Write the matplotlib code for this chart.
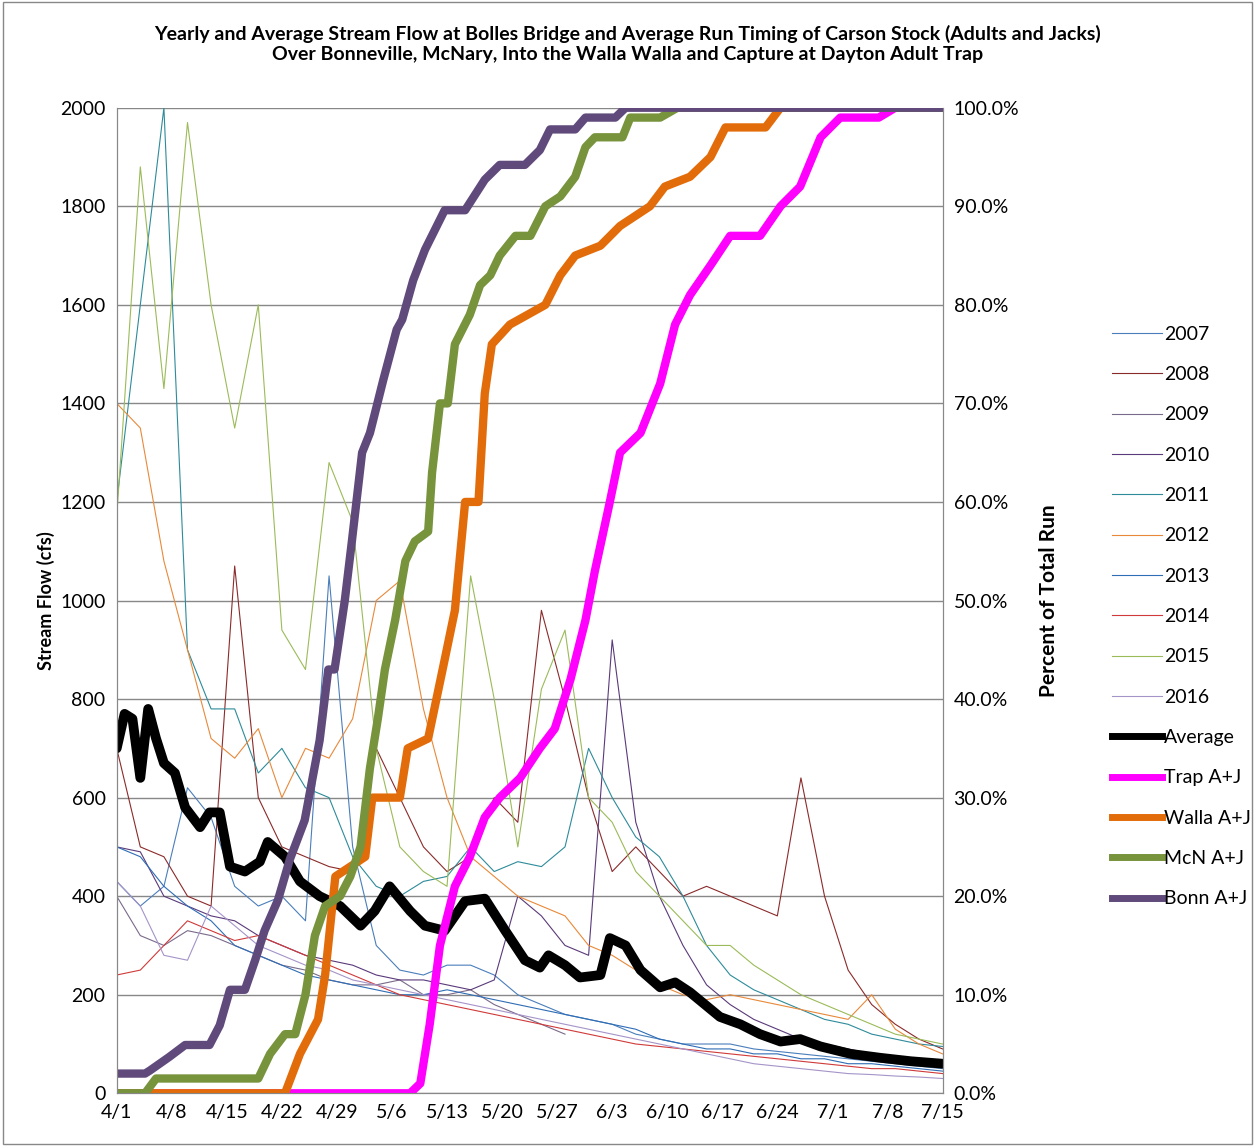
import matplotlib
matplotlib.use("Agg")
import matplotlib.pyplot as plt
import numpy as np
from matplotlib.lines import Line2D

plt.rcParams['font.family'] = ['Lato', 'DejaVu Sans']

tick_days = [0, 7, 14, 21, 28, 35, 42, 49, 56, 63, 70, 77, 84, 91, 98, 105]
tick_labels = ["4/1","4/8","4/15","4/22","4/29","5/6","5/13","5/20","5/27","6/3","6/10","6/17","6/24","7/1","7/8","7/15"]

year_days = list(range(0, 106, 3))
years = {
 "2007": ("#4A7EBB", [430,380,420,620,560,420,380,400,350,1050,500,300,250,240,260,260,240,200,180,160,150,140,120,110,100,100,100,90,85,80,75,70,65,60,55,50]),
 "2008": ("#8B2A2A", [700,500,480,400,380,1070,600,500,480,460,450,700,600,500,450,480,600,550,980,800,600,450,500,450,400,420,400,380,360,640,400,250,180,140,110,90]),
 "2009": ("#7A6A8A", [400,320,300,330,320,300,280,260,250,230,220,220,230,200,200,210,180,160,140,120]),
 "2010": ("#5A3A7A", [500,490,400,380,360,350,320,300,280,270,260,240,230,230,220,210,230,400,360,300,280,920,550,400,300,220,180,150,130,110,100,90,80,70,60,55]),
 "2011": ("#2E8B9A", [1200,1600,2000,900,780,780,650,700,620,600,480,420,400,430,440,500,450,470,460,500,700,600,520,480,400,300,240,210,190,170,150,140,120,110,100,95]),
 "2012": ("#E8893A", [1400,1350,1080,900,720,680,740,600,700,680,760,1000,1040,780,600,480,440,400,380,360,300,280,250,220,200,190,200,190,180,170,160,150,200,130,100,80]),
 "2013": ("#2F6DB5", [500,480,420,380,350,300,280,260,240,230,220,210,200,200,210,200,190,180,170,160,150,140,130,110,100,90,90,80,80,70,70,60,60,55,50,45]),
 "2014": ("#D03A3A", [240,250,300,350,330,310,320,300,280,260,240,220,200,190,180,170,160,150,140,130,120,110,100,95,90,85,80,75,70,65,60,55,50,50,45,40]),
 "2015": ("#9BBB59", [1170,1880,1430,1970,1600,1350,1600,940,860,1280,1160,700,500,450,420,1050,800,500,820,940,600,550,450,400,350,300,300,260,230,200,180,160,140,120,110,100]),
 "2016": ("#A594C8", [430,380,280,270,380,340,300,280,260,250,230,220,210,200,190,180,170,160,150,140,130,120,110,100,90,80,70,60,55,50,45,40,38,35,33,30]),
}

avg_days = [0,1,2,3,4,5,6,7.4,8.7,10.6,11.8,13.1,14.4,16.3,18.2,19.2,21.4,23.3,25.8,28.4,31,32.8,34.7,37.3,39.2,41.7,44.3,46.8,49.4,51.9,53.8,54.9,57,58.9,61.5,62.7,64.7,66.6,69.1,71,72.9,76.7,79.3,81.8,84.4,86.9,89.5,93.3,97.1,101,105]
avg_vals = [700,770,760,640,780,720,670,650,580,540,570,570,460,450,470,510,480,430,400,380,340,370,420,370,340,330,390,395,330,270,255,280,260,235,240,315,300,250,215,225,205,155,140,120,105,110,95,80,72,65,60]

bonn_days = [0,3.6,4.2,6.7,8.7,11.8,13.1,14.4,16.3,17.6,18.8,20.5,22,23.9,25.8,26.9,27.7,29,29.9,31.2,32.2,33.9,35.6,36.3,37.7,39.2,41.7,44.3,46.8,48.7,51.9,53.8,55.1,58.3,59.6,63.4,64.7,105]
bonn_vals = [2,2,2.3,3.7,4.9,4.9,6.9,10.5,10.5,13.5,16.5,19.6,23.7,27.7,35.8,43,43,50,56,65,67,72.4,77.5,78.5,82.5,85.6,89.6,89.6,92.7,94.2,94.2,95.7,97.8,97.8,99,99,100,100]

mcn_days = [0,3.6,5,18,19.5,21.4,22.7,24,25.2,26.5,28.4,29.7,31,32.2,33.2,34.1,35.4,36.7,37.9,39.6,40.1,41.1,42.1,43,44.9,46.2,47.5,48.7,50.7,52.6,54.5,56.4,58.3,59.6,60.8,64.3,65.3,69.1,71.3,105]
mcn_vals = [0,0,1.5,1.5,4,6,6,10,16,19,20,22,25,33,38,43,48,54,56,57,63,70,70,76,79,82,83,85,87,87,90,91,93,96,97,97,99,99,100,100]

walla_days = [0,21.4,23.3,25.6,26.5,27.8,31.6,32.5,36,37,39.6,41.7,43,44.3,46,46.8,47.7,50,54.5,56.4,58.3,61.5,64,67.8,69.7,72.9,75.5,77.4,82.5,84.4,105]
walla_vals = [0,0,4,7.5,12,22,24,30,30,35,36,44,49,60,60,71,76,78,80,83,85,86,88,90,92,93,95,98,98,100,100]

trap_days = [0,37.3,38.6,39.8,41.1,43,44.9,46.8,48.7,51.3,53.8,55.7,57.7,59.6,60.8,62.7,64,66.6,69.1,71,72.9,75.5,78,81.8,84.4,86.9,89.5,92,96.9,99,105]
trap_vals = [0,0,1,7,15,21,24,28,30,32,35,37,42,48,53,60,65,67,72,78,81,84,87,87,90,92,97,99,99,100,100]

fig = plt.figure(figsize=(12.55, 11.46), dpi=100)
ax = fig.add_axes([0.093, 0.046, 0.658, 0.86])
ax2 = ax.twinx()

handles = []
for name, (col, vals) in years.items():
    ax.plot(year_days[:len(vals)], vals, color=col, lw=0.8)
    handles.append(Line2D([], [], color=col, lw=0.8, label=name))
ax.plot(avg_days, avg_vals, color="black", lw=7, solid_capstyle="round")
handles.append(Line2D([], [], color="black", lw=5, label="Average"))

series = [("Trap A+J", "#FF00FF", trap_days, trap_vals),
          ("Walla A+J", "#E36C0A", walla_days, walla_vals),
          ("McN A+J", "#77933C", mcn_days, mcn_vals),
          ("Bonn A+J", "#604A7B", bonn_days, bonn_vals)]
for name, col, d, v in series:
    ax2.plot(d, v, color=col, lw=6)
    handles.append(Line2D([], [], color=col, lw=5, label=name))

ax.set_xlim(0, 105)
ax.set_ylim(0, 2000)
ax2.set_ylim(0, 100)
ax.set_yticks(range(0, 2001, 200))
ax2.set_yticks(range(0, 101, 10))
ax2.set_yticklabels([f"{v:.1f}%" for v in range(0, 101, 10)])
ax.set_xticks(tick_days)
ax.set_xticklabels(tick_labels)
ax.grid(axis="y", color="#888888", lw=1)
ax.set_axisbelow(True)
for a in (ax, ax2):
    a.tick_params(labelsize=14, length=0, pad=8)
    a.spines["top"].set_visible(False)
    for s in ("left", "right", "bottom"):
        a.spines[s].set_color("#888888")
ax.set_ylabel("Stream Flow (cfs)", fontsize=13, fontweight="bold")
ax2.set_ylabel("Percent of Total Run", fontsize=15, fontweight="bold", labelpad=14)
fig.suptitle("Yearly and Average Stream Flow at Bolles Bridge and Average Run Timing of Carson Stock (Adults and Jacks)\n"
             "Over Bonneville, McNary, Into the Walla Walla and Capture at Dayton Adult Trap",
             fontsize=14, fontweight="bold", y=0.978)
fig.legend(handles=handles, loc="center left", bbox_to_anchor=(0.872, 0.462), frameon=False,
           fontsize=14, handlelength=2.6, labelspacing=1.2, handletextpad=0.1)
fig.add_artist(plt.Rectangle((0.002, 0.002), 0.996, 0.996, fill=False, ec="#888888", lw=1, transform=fig.transFigure))
fig.savefig("out.png", dpi=100)
